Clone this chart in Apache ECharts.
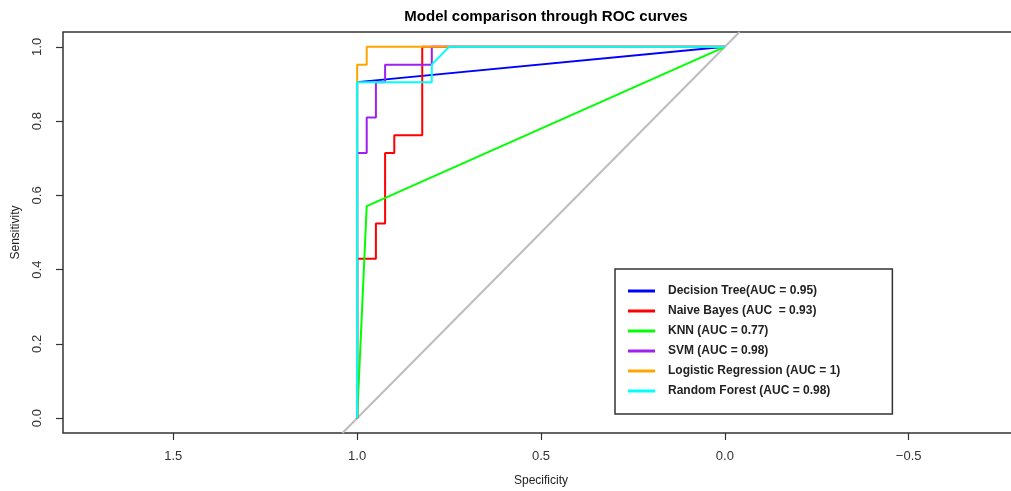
<!DOCTYPE html>
<html>
<head>
<meta charset="utf-8">
<script src="https://cdn.jsdelivr.net/npm/echarts@6/dist/echarts.min.js"></script>
<style>
  html, body { margin: 0; padding: 0; background: #fff; }
  #chart { width: 1011px; height: 491px; }
</style>
</head>
<body>
<div id="chart"></div>
<script>
// ROC 曲线数据 (specificity, sensitivity)
var xTicks = [-0.5, 0, 0.5, 1, 1.5];
var yTicks = [0, 0.2, 0.4, 0.6, 0.8, 1.0];

var modelNames = [
    'Decision Tree(AUC = 0.95)',
    'Naive Bayes (AUC  = 0.93)',
    'KNN (AUC = 0.77)',
    'SVM (AUC = 0.98)',
    'Logistic Regression (AUC = 1)',
    'Random Forest (AUC = 0.98)'
];
var modelColors = ['#0000ff', '#ff0000', '#00ff00', '#a020f0', '#ffa500', '#00ffff'];

var dtSpec = [1, 1, 0];
var dtSens = [0, 0.905, 1];

var nbSpec = [1, 1, 0.949, 0.949, 0.924, 0.924, 0.899, 0.899, 0.823, 0.823, 0];
var nbSens = [0, 0.429, 0.429, 0.524, 0.524, 0.714, 0.714, 0.762, 0.762, 1, 1];

var knnSpec = [1, 0.974, 0];
var knnSens = [0, 0.571, 1];

var svmSpec = [1, 1, 0.974, 0.974, 0.949, 0.949, 0.924, 0.924, 0.797, 0.797, 0];
var svmSens = [0, 0.714, 0.714, 0.81, 0.81, 0.905, 0.905, 0.952, 0.952, 1, 1];

var lrSpec = [1, 1, 0.974, 0.974, 0];
var lrSens = [0, 0.952, 0.952, 1, 1];

var rfSpec = [1, 1, 0.797, 0.797, 0.75, 0];
var rfSens = [0, 0.905, 0.905, 0.952, 1, 1];

// 对角参考线
var diagSpec = [1.04, -0.04];
var diagSens = [-0.04, 1.04];

function pairs(xs, ys) {
    var out = [];
    for (var i = 0; i < xs.length; i++) {
        out.push([xs[i], ys[i]]);
    }
    return out;
}

var curves = [
    [dtSpec, dtSens], [nbSpec, nbSens], [knnSpec, knnSens],
    [svmSpec, svmSens], [lrSpec, lrSens], [rfSpec, rfSens]
];

var fontFamily = '"Liberation Sans", Arial, sans-serif';

var series = [{
    type: 'line',
    name: 'diag',
    data: pairs(diagSpec, diagSens),
    symbol: 'none',
    silent: true,
    lineStyle: { color: '#bdbdbd', width: 2 },
    z: 1
}];

for (var i = 0; i < curves.length; i++) {
    series.push({
        type: 'line',
        name: modelNames[i],
        data: pairs(curves[i][0], curves[i][1]),
        symbol: 'none',
        color: modelColors[i],
        lineStyle: { color: modelColors[i], width: 2 },
        z: 2 + i
    });
}

var myChart = echarts.init(document.getElementById('chart'));

var option = {
    animation: false,
    backgroundColor: '#fff',
    title: {
        text: 'Model comparison through ROC curves',
        left: 541,
        textAlign: 'center',
        top: 4,
        textStyle: { fontFamily: fontFamily, fontSize: 15, fontWeight: 'bold', color: '#000' }
    },
    grid: {
        show: true,
        left: 63,
        top: 32,
        width: 956,
        height: 401,
        borderColor: '#333',
        borderWidth: 1.5,
        outerBoundsMode: 'none',
        containLabel: false
    },
    xAxis: {
        type: 'value',
        inverse: true,
        min: -0.8,
        max: 1.8,
        name: 'Specificity',
        nameLocation: 'middle',
        nameGap: 42,
        nameTextStyle: { fontFamily: fontFamily, fontSize: 12, color: '#222' },
        splitLine: { show: false },
        axisLine: { show: false, onZero: false },
        axisTick: {
            show: true,
            length: 7,
            customValues: xTicks,
            lineStyle: { color: '#333', width: 1.2 }
        },
        axisLabel: {
            customValues: xTicks,
            margin: 17,
            fontFamily: fontFamily,
            fontSize: 13,
            color: '#333',
            formatter: function (v) { return v.toFixed(1).replace('-', '\u2212'); }
        }
    },
    yAxis: {
        type: 'value',
        min: -0.04,
        max: 1.04,
        name: 'Sensitivity',
        nameLocation: 'middle',
        nameGap: 41,
        nameTextStyle: { fontFamily: fontFamily, fontSize: 12, color: '#222' },
        splitLine: { show: false },
        axisLine: { show: false, onZero: false },
        axisTick: {
            show: true,
            length: 7,
            customValues: yTicks,
            lineStyle: { color: '#333', width: 1.2 }
        },
        axisLabel: {
            customValues: yTicks,
            rotate: 90,
            margin: 19,
            fontFamily: fontFamily,
            fontSize: 13,
            color: '#333',
            formatter: function (v) { return v.toFixed(1); }
        }
    },
    legend: {
        data: modelNames,
        orient: 'vertical',
        left: 615,
        top: 269,
        padding: [15, 52, 16, 13],
        icon: 'rect',
        itemWidth: 27,
        itemHeight: 3,
        itemGap: 6,
        backgroundColor: '#fff',
        borderColor: '#333',
        borderWidth: 1.5,
        borderRadius: 0,
        textStyle: {
            fontFamily: fontFamily,
            fontSize: 12,
            fontWeight: 'bold',
            color: '#222',
            lineHeight: 14,
            padding: [0, 0, 0, 8]
        }
    },
    series: series
};

myChart.setOption(option);
</script>
</body>
</html>
